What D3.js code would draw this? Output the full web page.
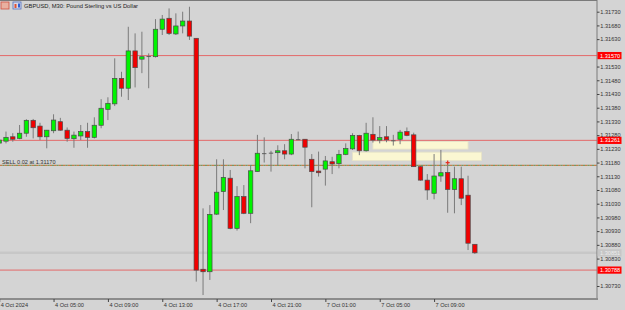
<!DOCTYPE html>
<html>
<head>
<meta charset="utf-8">
<script src="https://cdn.jsdelivr.net/npm/d3@7"></script>
<style>
body{margin:0;background:#d4d4d4;}
svg{display:block;font-family:"Liberation Sans",Arial,sans-serif;}
</style>
</head>
<body>
<svg id="chart" width="625" height="310"></svg>
<script>
/* DATOS: velas M30 GBPUSD */
const open  = [1.31251,1.31258,1.31274,1.31268,1.31287,1.31334,1.31313,1.31274,1.31296,1.31329,
               1.31298,1.31267,1.31277,1.31293,1.31272,1.31316,1.31374,1.31394,1.31487,1.31451,
               1.31587,1.31557,1.31568,1.31566,1.31666,1.31706,1.31649,1.31678,1.31696,1.31633,
               1.30791,1.30782,1.30992,1.31074,1.31123,1.30940,1.31056,1.30995,1.31147,1.31214,
               1.31216,1.31216,1.31223,1.31211,1.31265,1.31265,1.31192,1.31149,1.31156,1.31183,
               1.31176,1.31210,1.31230,1.31279,1.31223,1.31283,1.31262,1.31274,1.31261,1.31265,
               1.31293,1.31281,1.31165,1.31116,1.31068,1.31131,1.31144,1.31082,1.31121,1.31061,
               1.30882]
const high  = [1.31266,1.31293,1.31287,1.31317,1.31338,1.31339,1.31325,1.31299,1.31356,1.31343,
               1.31308,1.31293,1.31317,1.31325,1.31345,1.31411,1.31418,1.31560,1.31511,1.31675,
               1.31651,1.31657,1.31578,1.31703,1.31718,1.31742,1.31724,1.31730,1.31748,1.31633,
               1.31013,1.31025,1.31192,1.31192,1.31153,1.31094,1.31098,1.31171,1.31281,1.31272,
               1.31223,1.31243,1.31247,1.31284,1.31293,1.31265,1.31211,1.31220,1.31204,1.31201,
               1.31226,1.31250,1.31287,1.31281,1.31325,1.31345,1.31313,1.31313,1.31281,1.31299,
               1.31308,1.31289,1.31167,1.31138,1.31211,1.31226,1.31183,1.31165,1.31165,1.31132,
               1.30882]
const low   = [1.31248,1.31250,1.31256,1.31265,1.31274,1.31268,1.31262,1.31232,1.31287,1.31296,
               1.31256,1.31234,1.31262,1.31234,1.31268,1.31305,1.31335,1.31386,1.31420,1.31408,
               1.31454,1.31506,1.31451,1.31563,1.31645,1.31645,1.31645,1.31651,1.31627,1.30746,
               1.30697,1.30752,1.30989,1.31007,1.30937,1.30932,1.30992,1.30959,1.31147,1.31180,
               1.31147,1.31171,1.31192,1.31207,1.31262,1.31159,1.31017,1.31129,1.31096,1.31138,
               1.31159,1.31207,1.31226,1.31207,1.31220,1.31253,1.31250,1.31254,1.31242,1.31247,
               1.31276,1.31165,1.31114,1.31044,1.31046,1.31110,1.30997,1.30995,1.31025,1.30861,
               1.30847]
const close = [1.31262,1.31272,1.31265,1.31287,1.31334,1.31307,1.31274,1.31298,1.31335,1.31298,
               1.31268,1.31280,1.31293,1.31272,1.31316,1.31378,1.31396,1.31487,1.31451,1.31587,
               1.31526,1.31566,1.31568,1.31666,1.31703,1.31651,1.31678,1.31696,1.31641,1.30788,
               1.30782,1.30991,1.31072,1.31126,1.30940,1.31056,1.30995,1.31150,1.31214,1.31214,
               1.31216,1.31223,1.31211,1.31265,1.31265,1.31236,1.31147,1.31143,1.31186,1.31175,
               1.31210,1.31231,1.31279,1.31223,1.31287,1.31262,1.31271,1.31263,1.31261,1.31291,
               1.31279,1.31165,1.31116,1.31080,1.31131,1.31143,1.31082,1.31121,1.31050,1.30886,
               1.30851]

/* ranuras de tiempo M30 (sin fin de semana) */
const slots = []
for (let k = 0; k < 75; k++) {
  const d = k < 46 ? new Date(Date.UTC(2024, 9, 4, 1, 30 * k)) : new Date(Date.UTC(2024, 9, 7, 0, 30 * (k - 46)))
  slots.push(d3.utcFormat('%Y-%m-%d %H:%M')(d))
}
const times = slots.slice(0, open.length)

/* ETIQUETAS DE LOS EJES */
const tickTimes  = ['2024-10-04 01:00','2024-10-04 05:00','2024-10-04 09:00','2024-10-04 13:00','2024-10-04 17:00',
                    '2024-10-04 21:00','2024-10-07 01:00','2024-10-07 05:00','2024-10-07 09:00']
const tickLabels = ['4 Oct 2024','4 Oct 05:00','4 Oct 09:00','4 Oct 13:00','4 Oct 17:00',
                    '4 Oct 21:00','7 Oct 01:00','7 Oct 05:00','7 Oct 09:00']
const priceTicks = ['1.31730','1.31680','1.31630','1.31530','1.31480','1.31430','1.31380','1.31330',
                    '1.31280','1.31230','1.31180','1.31130','1.31080','1.31030','1.30980','1.30930','1.30880',
                    '1.30830','1.30730'] /*1.31580 y 1.30780 quedan tapados por las etiquetas rojas*/

/* NIVELES Y OBJETOS */
const redLevels  = [1.31570, 1.31261, 1.30788]
const bidPrice   = 1.30851
const sellPrice  = 1.31170
const sellText   = 'SELL 0.02 at 1.31170'
const zoneFrom   = ['2024-10-07 04:30', '2024-10-07 03:00']
const zoneTo     = ['2024-10-07 11:30', '2024-10-07 12:30']
const zoneTop    = [1.31257, 1.31218]
const zoneBottom = [1.31229, 1.31187]
const crossTime  = '2024-10-07 10:00'
const crossPrice = 1.31180
const title      = 'GBPUSD, M30:  Pound Sterling vs US Dollar'

/* ESCALAS */
const W = 597, H = 299
const x = d3.scalePoint().domain(slots).range([-0.8, -0.8 + 74 * 6.795])
const y = d3.scaleLinear().domain([1.30730, 1.31730]).range([286, 11.7])

const svg = d3.select('#chart')
svg.append('rect').attr('width', 625).attr('height', 310).attr('fill', '#d4d4d4')

/* línea bid gris */
svg.append('line').attr('x1', 0).attr('x2', W).attr('y1', y(bidPrice)).attr('y2', y(bidPrice))
  .attr('stroke', '#c7c7c7').attr('stroke-width', 2.5)

/* zonas amarillas */
svg.selectAll('rect.zone').data(zoneFrom).join('rect').attr('class', 'zone')
  .attr('x', (d, i) => x(d))
  .attr('width', (d, i) => x(zoneTo[i]) - x(d))
  .attr('y', (d, i) => y(zoneTop[i]))
  .attr('height', (d, i) => y(zoneBottom[i]) - y(zoneTop[i]))
  .attr('fill', '#fbf7d2').attr('stroke', '#e6e2c6').attr('stroke-width', 0.8)

/* líneas rojas */
svg.selectAll('line.lvl').data(redLevels).join('line').attr('class', 'lvl')
  .attr('x1', 0).attr('x2', W).attr('y1', d => y(d)).attr('y2', d => y(d))
  .attr('stroke', '#e36a6a').attr('stroke-width', 1)

/* línea de la orden sell */
svg.append('line').attr('x1', 0).attr('x2', W).attr('y1', y(sellPrice)).attr('y2', y(sellPrice))
  .attr('stroke', '#c0682a').attr('stroke-width', 1).attr('stroke-dasharray', '2.5,2')
svg.append('line').attr('x1', 2.5).attr('x2', W).attr('y1', y(sellPrice)).attr('y2', y(sellPrice))
  .attr('stroke', '#5f8a45').attr('stroke-width', 1).attr('stroke-dasharray', '2,2.5')
svg.append('text').attr('x', 2).attr('y', y(sellPrice) - 1.5).text(sellText)
  .attr('font-size', 5.6).attr('fill', '#333')

/* VELAS */
const candles = times.map((t, i) => ({t, o: open[i], h: high[i], l: low[i], c: close[i]}))
const g = svg.append('g')
g.selectAll('line.wick').data(candles).join('line').attr('class', 'wick')
  .attr('x1', d => x(d.t)).attr('x2', d => x(d.t))
  .attr('y1', d => y(d.h)).attr('y2', d => y(d.l))
  .attr('stroke', '#7b7b7b').attr('stroke-width', 1)
g.selectAll('rect.body').data(candles).join('rect').attr('class', 'body')
  .attr('x', d => x(d.t) - 2.2).attr('width', 4.4)
  .attr('y', d => y(Math.max(d.o, d.c)))
  .attr('height', d => Math.max(0.9, Math.abs(y(d.o) - y(d.c))))
  .attr('fill', d => d.c > d.o ? '#00f400' : d.c < d.o ? '#f20000' : '#555')
  .attr('stroke', d => d.c === d.o ? 'none' : '#4a4a4a').attr('stroke-width', 0.7)

/* cruz roja */
svg.append('path')
  .attr('d', `M${x(crossTime) - 2},${y(crossPrice)}h4M${x(crossTime)},${y(crossPrice) - 2}v4`)
  .attr('stroke', '#e83020').attr('stroke-width', 1.2)

/* BORDES */
svg.append('line').attr('x1', 0).attr('x2', W).attr('y1', 0.5).attr('y2', 0.5).attr('stroke', '#7a7a7a')
svg.append('line').attr('x1', W).attr('x2', W).attr('y1', 0).attr('y2', H).attr('stroke', '#7a7a7a')
svg.append('line').attr('x1', 0).attr('x2', W + 1).attr('y1', H).attr('y2', H)
  .attr('stroke', '#8c8c8c').attr('stroke-width', 2)

/* EJE Y */
const yAxis = svg.append('g').attr('transform', `translate(${W},0)`)
  .call(d3.axisRight(y).tickValues(priceTicks.map(Number)).tickFormat((d, i) => priceTicks[i])
    .tickSize(2.5).tickPadding(0.8))
yAxis.select('.domain').remove()
yAxis.selectAll('line').attr('stroke', '#444')
yAxis.selectAll('text').attr('font-size', 5.6).attr('fill', '#333').attr('font-family', '"Liberation Sans",Arial')

/* etiquetas de precio */
const tags = redLevels.map(v => ({v, fill: '#ff0000', col: '#fff'})).concat([{v: bidPrice, fill: '#c6c6c6', col: '#ececec'}])
const tag = svg.selectAll('g.tag').data(tags).join('g').attr('class', 'tag')
  .attr('transform', d => `translate(${W + 0.5},${y(d.v)})`)
tag.append('rect').attr('x', 0).attr('y', -3.6).attr('width', 24).attr('height', 7.2).attr('fill', d => d.fill)
tag.append('text').attr('x', 2.5).attr('y', 2).attr('font-size', 5.6).attr('fill', d => d.col)
  .text(d => d.v.toFixed(5))

/* EJE X */
const xAxis = svg.append('g').attr('transform', `translate(0,${H})`)
  .call(d3.axisBottom(x).tickValues(tickTimes).tickFormat((d, i) => tickLabels[i]).tickSize(3).tickPadding(1))
xAxis.select('.domain').remove()
xAxis.selectAll('line').attr('stroke', '#444')
xAxis.selectAll('text').attr('text-anchor', 'start').attr('x', 1).attr('font-size', 5.6).attr('fill', '#333')
  .attr('font-family', '"Liberation Sans",Arial')

/* TÍTULO */
svg.append('rect').attr('x', 1).attr('y', 2).attr('width', 8).attr('height', 7).attr('fill', '#e8b0a0').attr('stroke', '#d05040').attr('stroke-width', 0.8)
svg.append('rect').attr('x', 13).attr('y', 2).attr('width', 8).attr('height', 7).attr('fill', '#d8d8e8').attr('stroke', '#5070c0').attr('stroke-width', 0.8)
svg.append('rect').attr('x', 14.5).attr('y', 4).attr('width', 2).attr('height', 4).attr('fill', '#e05030')
svg.append('rect').attr('x', 18).attr('y', 3.5).attr('width', 2).attr('height', 4).attr('fill', '#3060d0')
svg.append('text').attr('x', 24).attr('y', 8).attr('font-size', 5.8).attr('fill', '#222').text(title)
</script>
</body>
</html>
